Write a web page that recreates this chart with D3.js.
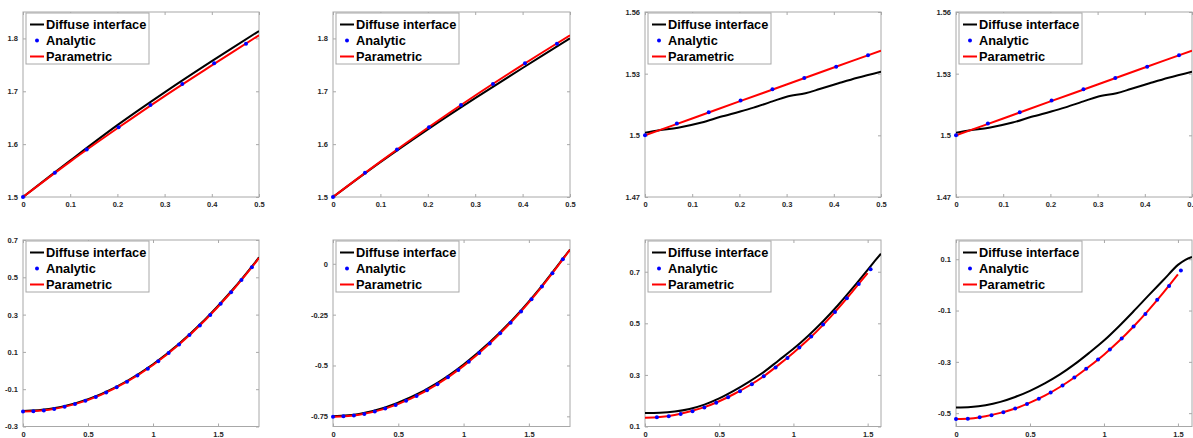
<!DOCTYPE html>
<html>
<head>
<meta charset="utf-8">
<script src="https://cdn.jsdelivr.net/npm/d3@7"></script>
<style>
  body { margin: 0; background: #fff; }
  svg { display: block; }
  .tick text { font-family: "Liberation Sans", Arial, sans-serif; font-weight: bold; font-size: 7.5px; fill: #262626; }
  .leg text { font-family: "Liberation Sans", Arial, sans-serif; font-weight: bold; font-size: 12.8px; fill: #000; }
</style>
</head>
<body>
<svg width="1193" height="438"></svg>
<script>

// ---- data ----
var legendLabels = ["Diffuse interface", "Analytic", "Parametric"]

// top row (panels 1-4)
var xTopTicks = [0, 0.1, 0.2, 0.3, 0.4, 0.5]
var yTicksA = [1.5, 1.6, 1.7, 1.8]
var yTicksB = [1.47, 1.5, 1.53, 1.56]
var xTopLine = [0, 0.1, 0.2, 0.3, 0.4, 0.5]
var xTopAnalytic = [0, 0.0675, 0.135, 0.2025, 0.27, 0.3375, 0.405, 0.4725]

var p1Diffuse = [1.5, 1.569, 1.636, 1.698, 1.757, 1.814]
var p1Param = [1.5, 1.567, 1.630, 1.691, 1.749, 1.806]
var p1Analytic = [1.5, 1.546, 1.590, 1.632, 1.674, 1.714, 1.753, 1.790]

var p2Diffuse = [1.5, 1.566, 1.628, 1.687, 1.744, 1.800]
var p2Param = [1.5, 1.567, 1.631, 1.692, 1.750, 1.806]
var p2Analytic = [1.5, 1.546, 1.590, 1.632, 1.674, 1.714, 1.753, 1.790]

var xWavy = [0, 0.03, 0.07, 0.12, 0.16, 0.2, 0.23, 0.27, 0.3, 0.34, 0.37, 0.41, 0.45, 0.5]
var p3Diffuse = [1.5013, 1.5025, 1.5037, 1.5062, 1.509, 1.5115, 1.5135, 1.5165, 1.5188, 1.5205, 1.5225, 1.5253, 1.528, 1.531]
var p3Param = [1.5, 1.5082, 1.5165, 1.5247, 1.533, 1.5412]
var p3Analytic = [1.5, 1.5057, 1.5112, 1.5169, 1.5224, 1.5279, 1.5334, 1.5389]

var p4Diffuse = [1.5013, 1.5025, 1.5037, 1.5062, 1.509, 1.5115, 1.5135, 1.5165, 1.5188, 1.5205, 1.5225, 1.5253, 1.528, 1.531]
var p4Param = [1.5, 1.5082, 1.5165, 1.5247, 1.533, 1.5412]
var p4Analytic = [1.5, 1.5057, 1.5112, 1.5169, 1.5224, 1.5279, 1.5334, 1.5389]

// bottom row (panels 5-8)
var xBotTicks = [0, 0.5, 1, 1.5]
var y5Ticks = [-0.3, -0.1, 0.1, 0.3, 0.5, 0.7]
var y6Ticks = [-0.75, -0.5, -0.25, 0]
var y7Ticks = [0.1, 0.3, 0.5, 0.7]
var y8Ticks = [-0.5, -0.3, -0.1, 0.1]

var xLine56 = [0, 0.2, 0.4, 0.6, 0.8, 1.0, 1.2, 1.4, 1.6, 1.8, 1.815]
var xAnalytic56 = [0, 0.08, 0.16, 0.24, 0.32, 0.4, 0.48, 0.56, 0.64, 0.72, 0.8, 0.88, 0.96, 1.04, 1.12, 1.2, 1.28, 1.36, 1.44, 1.52, 1.6, 1.68, 1.76]

var p5Diffuse = [-0.217, -0.206, -0.176, -0.126, -0.056, 0.034, 0.144, 0.274, 0.424, 0.593, 0.607]
var p5Param = [-0.22, -0.21, -0.18, -0.13, -0.06, 0.03, 0.14, 0.27, 0.42, 0.59, 0.604]
var p5Analytic = [-0.220, -0.218, -0.214, -0.206, -0.194, -0.180, -0.162, -0.142, -0.118, -0.090, -0.060, -0.026, 0.010, 0.050, 0.094, 0.140, 0.190, 0.242, 0.298, 0.358, 0.420, 0.486, 0.554]

var p6Diffuse = [-0.749, -0.738, -0.706, -0.655, -0.585, -0.495, -0.386, -0.257, -0.108, 0.058, 0.070]
var p6Param = [-0.752, -0.742, -0.712, -0.662, -0.592, -0.502, -0.392, -0.262, -0.112, 0.056, 0.069]
var p6Analytic = [-0.752, -0.750, -0.746, -0.738, -0.726, -0.712, -0.694, -0.674, -0.650, -0.622, -0.592, -0.558, -0.522, -0.482, -0.438, -0.392, -0.342, -0.290, -0.234, -0.174, -0.112, -0.046, 0.022]

var xParam78 = [0, 0.1, 0.2, 0.3, 0.4, 0.5, 0.6, 0.7, 0.8, 0.9, 1.0, 1.1, 1.2, 1.3, 1.4, 1.5]
var xDiffuse7 = [0, 0.1, 0.2, 0.3, 0.4, 0.5, 0.6, 0.7, 0.8, 0.9, 1.0, 1.1, 1.2, 1.3, 1.4, 1.5, 1.55, 1.59]
var xDiffuse8 = [0, 0.1, 0.2, 0.3, 0.4, 0.5, 0.6, 0.7, 0.8, 0.9, 1.0, 1.1, 1.2, 1.3, 1.4, 1.5, 1.55, 1.595]
var xAnalytic7 = [0.08, 0.16, 0.24, 0.32, 0.4, 0.48, 0.56, 0.64, 0.72, 0.8, 0.88, 0.96, 1.04, 1.12, 1.2, 1.28, 1.36, 1.44, 1.52]
var xAnalytic8 = [0, 0.08, 0.16, 0.24, 0.32, 0.4, 0.48, 0.56, 0.64, 0.72, 0.8, 0.88, 0.96, 1.04, 1.12, 1.2, 1.28, 1.36, 1.44, 1.52]

var p7Diffuse = [0.152, 0.153, 0.158, 0.168, 0.185, 0.209, 0.239, 0.273, 0.311, 0.356, 0.401, 0.452, 0.508, 0.570, 0.637, 0.707, 0.743, 0.770]
var p7Param = [0.134, 0.137, 0.145, 0.158, 0.175, 0.198, 0.226, 0.258, 0.295, 0.339, 0.386, 0.437, 0.494, 0.557, 0.625, 0.695]
var p7Analytic = [0.136, 0.140, 0.148, 0.159, 0.174, 0.192, 0.213, 0.237, 0.264, 0.295, 0.329, 0.366, 0.406, 0.449, 0.495, 0.544, 0.597, 0.652, 0.710]

var p8Diffuse = [-0.478, -0.476, -0.469, -0.456, -0.437, -0.413, -0.384, -0.350, -0.310, -0.265, -0.217, -0.162, -0.103, -0.042, 0.018, 0.078, 0.098, 0.109]
var p8Param = [-0.523, -0.521, -0.512, -0.499, -0.482, -0.459, -0.432, -0.399, -0.361, -0.318, -0.272, -0.220, -0.162, -0.099, -0.031, 0.041]
var p8Analytic = [-0.523, -0.522, -0.516, -0.508, -0.496, -0.482, -0.464, -0.444, -0.419, -0.392, -0.361, -0.327, -0.291, -0.252, -0.209, -0.162, -0.113, -0.058, -0.004, 0.056]

// ---- panel layout ----
var topY = [12, 197]
var botY = [240, 426.5]

var panels = [
  {box: [23, 259], rows: topY, xd: [0, 0.5], yd: [1.5, 1.85], xt: xTopTicks, yt: yTicksA,
   dx: xTopLine, dy: p1Diffuse, px: xTopLine, py: p1Param, ax: xTopAnalytic, ay: p1Analytic},
  {box: [333, 570], rows: topY, xd: [0, 0.5], yd: [1.5, 1.85], xt: xTopTicks, yt: yTicksA,
   dx: xTopLine, dy: p2Diffuse, px: xTopLine, py: p2Param, ax: xTopAnalytic, ay: p2Analytic},
  {box: [645, 881], rows: topY, xd: [0, 0.5], yd: [1.47, 1.56], xt: xTopTicks, yt: yTicksB,
   dx: xWavy, dy: p3Diffuse, px: xTopLine, py: p3Param, ax: xTopAnalytic, ay: p3Analytic},
  {box: [956, 1192], rows: topY, xd: [0, 0.5], yd: [1.47, 1.56], xt: xTopTicks, yt: yTicksB,
   dx: xWavy, dy: p4Diffuse, px: xTopLine, py: p4Param, ax: xTopAnalytic, ay: p4Analytic},
  {box: [23, 259], rows: botY, xd: [0, 1.815], yd: [-0.3, 0.7], xt: xBotTicks, yt: y5Ticks,
   dx: xLine56, dy: p5Diffuse, px: xLine56, py: p5Param, ax: xAnalytic56, ay: p5Analytic},
  {box: [333, 570], rows: botY, xd: [0, 1.815], yd: [-0.8, 0.117], xt: xBotTicks, yt: y6Ticks,
   dx: xLine56, dy: p6Diffuse, px: xLine56, py: p6Param, ax: xAnalytic56, ay: p6Analytic},
  {box: [645, 881], rows: botY, xd: [0, 1.59], yd: [0.1, 0.823], xt: xBotTicks, yt: y7Ticks,
   dx: xDiffuse7, dy: p7Diffuse, px: xParam78, py: p7Param, ax: xAnalytic7, ay: p7Analytic},
  {box: [956, 1192], rows: botY, xd: [0, 1.595], yd: [-0.552, 0.175], xt: xBotTicks, yt: y8Ticks,
   dx: xDiffuse8, dy: p8Diffuse, px: xParam78, py: p8Param, ax: xAnalytic8, ay: p8Analytic}
]

var svg = d3.select("svg")
var axisColor = "#a8a8a8"

function zip(xs, ys) {
  return xs.map(function(x, i) { return [x, ys[i]]; })
}

panels.forEach(function(p, i) {
  var w = p.box[1] - p.box[0],
      h = p.rows[1] - p.rows[0]

  var x = d3.scaleLinear().domain(p.xd).range([0, w])
  var y = d3.scaleLinear().domain(p.yd).range([h, 0])

  var g = svg.append("g")
    .attr("transform", "translate(" + p.box[0] + "," + p.rows[0] + ")")

  g.append("clipPath").attr("id", "clip" + i)
    .append("rect").attr("width", w).attr("height", h)

  // ticks on all four sides, pointing inward
  var fmt = function(d) { return String(d); }
  g.append("g").attr("transform", "translate(0," + h + ")")
    .call(d3.axisBottom(x).tickValues(p.xt).tickFormat(fmt).tickSizeInner(-3).tickSizeOuter(0).tickPadding(5))
  g.append("g")
    .call(d3.axisLeft(y).tickValues(p.yt).tickFormat(fmt).tickSizeInner(-3).tickSizeOuter(0).tickPadding(5))
  g.append("g")
    .call(d3.axisTop(x).tickValues(p.xt).tickFormat("").tickSizeInner(-3).tickSizeOuter(0))
  g.append("g").attr("transform", "translate(" + w + ",0)")
    .call(d3.axisRight(y).tickValues(p.yt).tickFormat("").tickSizeInner(-3).tickSizeOuter(0))

  g.selectAll(".domain").remove()
  g.selectAll(".tick line").attr("stroke", axisColor)

  g.append("rect")
    .attr("width", w).attr("height", h)
    .attr("fill", "none").attr("stroke", axisColor).attr("stroke-width", 1)

  var line = d3.line()
    .x(function(d) { return x(d[0]); })
    .y(function(d) { return y(d[1]); })
    .curve(d3.curveCatmullRom.alpha(0.5))

  var plot = g.append("g").attr("clip-path", "url(#clip" + i + ")")

  plot.append("path")
    .attr("d", line(zip(p.dx, p.dy)))
    .attr("fill", "none").attr("stroke", "#000").attr("stroke-width", 2)

  plot.append("path")
    .attr("d", line(zip(p.px, p.py)))
    .attr("fill", "none").attr("stroke", "#ff0000").attr("stroke-width", 2)

  g.selectAll(".pt")
    .data(zip(p.ax, p.ay))
    .enter().append("circle")
    .attr("class", "pt")
    .attr("cx", function(d) { return x(d[0]); })
    .attr("cy", function(d) { return y(d[1]); })
    .attr("r", 2)
    .attr("fill", "#0000ff")

  // legend, top left
  var leg = g.append("g").attr("class", "leg").attr("transform", "translate(3,1)")
  leg.append("rect")
    .attr("width", 123).attr("height", 51)
    .attr("fill", "#fff").attr("stroke", axisColor).attr("stroke-width", 1)

  legendLabels.forEach(function(lab, k) {
    var cy = 11.5 + k * 16
    if (k == 1) {
      leg.append("circle").attr("cx", 11).attr("cy", cy).attr("r", 2).attr("fill", "#0000ff")
    } else {
      leg.append("line")
        .attr("x1", 4).attr("x2", 18).attr("y1", cy).attr("y2", cy)
        .attr("stroke", k == 0 ? "#000" : "#ff0000").attr("stroke-width", 2)
    }
    leg.append("text")
      .attr("x", 20).attr("y", cy + 4.5)
      .text(lab)
  })
})

</script>
</body>
</html>
